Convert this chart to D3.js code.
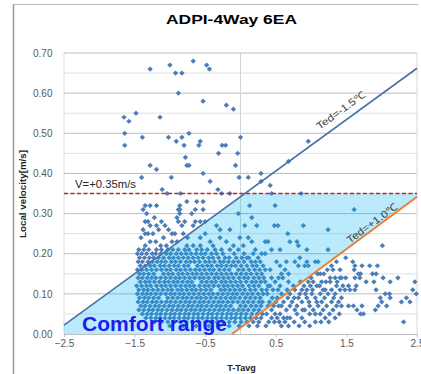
<!DOCTYPE html>
<html>
<head>
<meta charset="utf-8">
<script src="https://cdn.jsdelivr.net/npm/d3@7/dist/d3.min.js"></script>
<style>
  body { margin: 0; background: #fff; }
  svg { display: block; }
</style>
</head>
<body>
<svg id="chart" width="421" height="374"></svg>
<script>
// ---- axis ticks ----
const yTicks = [0, 0.1, 0.2, 0.3, 0.4, 0.5, 0.6, 0.7];
const yMinor = [0.05, 0.15, 0.25, 0.35, 0.45, 0.55, 0.65];
const xTicks = [-2.5, -1.5, -0.5, 0.5, 1.5, 2.5];

// ---- reference lines: effective draft temperature limits and velocity limit ----
const tedCold = [[-2.5, 0.022], [2.5, 0.662]];   // Ted = -1.5 ℃
const tedWarm = [[-0.12, 0.0], [2.5, 0.342]];    // Ted = +1.0 ℃
const velocityLimit = 0.35;                       // V = +0.35 m/s

// ---- measured points [T - Tavg, local velocity] ----
// high-velocity points above the limit line
const highPoints = [
  [-1.28,0.66],[-1.00,0.67],[-0.92,0.65],[-0.83,0.65],[-0.67,0.68],[-0.48,0.67],[-0.44,0.66],
  [-0.88,0.60],[-0.53,0.58],[-0.20,0.57],[-0.10,0.56],[-1.48,0.55],[-1.65,0.54],[-1.58,0.53],
  [-1.14,0.54],[-1.64,0.50],[-1.39,0.49],[-1.02,0.49],[-0.91,0.48],[-0.83,0.49],[-0.73,0.50],
  [-0.57,0.48],[-0.59,0.47],[-0.80,0.47],[-1.64,0.47],[-0.26,0.47],[-0.21,0.47],[0.00,0.49],
  [-0.31,0.45],[-0.04,0.45],[-0.78,0.44],[-0.76,0.42],[-0.73,0.42],[-1.28,0.42],[-1.19,0.41],
  [-0.07,0.42],[-1.40,0.39],[-0.98,0.39],[-0.53,0.40],[-0.02,0.39],[0.11,0.39],[0.29,0.40],
  [0.29,0.38],[0.42,0.37],[-0.43,0.38],[-0.32,0.36],[-1.11,0.36],[-1.04,0.35],[-0.85,0.35],
  [-0.15,0.35],[-0.27,0.35],[0.68,0.43],[0.96,0.48],[0.86,0.35],[0.44,0.35]
];

// cold cluster above the Ted = -1.5 line
const coldCluster = [
  [-1.35,0.32],[-1.28,0.32],[-1.19,0.32],[-1.38,0.31],[-1.33,0.30],[-1.35,0.28],[-1.31,0.28],
  [-1.28,0.27],[-1.19,0.27],[-1.12,0.28],[-1.07,0.27],[-1.38,0.26],[-1.35,0.25],[-1.31,0.25],
  [-1.16,0.26],[-1.24,0.25],[-1.09,0.24],[-1.02,0.26],[-0.97,0.25],[-1.35,0.22],[-1.28,0.23],
  [-1.20,0.23],[-1.13,0.22],[-1.05,0.22],[-0.88,0.31],[-0.86,0.30],[-0.90,0.29],[-0.88,0.28],
  [-0.93,0.25],[-0.97,0.23],[-0.90,0.23],[-0.83,0.27],[-0.86,0.32],[-1.41,0.24],[-1.22,0.29],
  [-0.76,0.33],[-0.62,0.33],[-0.53,0.33],[-0.64,0.31],[-0.53,0.31],[-0.86,0.31],[-0.69,0.30],
  [-0.79,0.28],[-0.64,0.28],[-0.57,0.28],[-0.50,0.28],[-0.81,0.25],[-0.67,0.27],[-0.75,0.24]
];

// upper part of the comfort zone
const comfortUpper = [
  [0.13,0.32],[-0.03,0.30],[0.16,0.29],[-0.34,0.27],[-0.29,0.26],[0.06,0.27],[0.23,0.27],
  [-0.15,0.26],[-0.01,0.24],[0.11,0.24],[-0.29,0.24],[-0.20,0.23],[-0.43,0.23],[-0.57,0.24],
  [-0.50,0.25],[0.35,0.23],[-0.10,0.22],[0.04,0.22],[0.16,0.23],[-0.39,0.22],[-0.27,0.21],
  [-0.67,0.22],[-0.57,0.22],[-0.76,0.22],[0.21,0.21],[0.30,0.20],[-0.03,0.21],[-0.15,0.21],
  [0.09,0.19],[0.21,0.18],
  [0.49,0.32],[0.48,0.27],[0.53,0.27],[0.89,0.27],[1.24,0.26],[0.67,0.25],[0.70,0.23],
  [0.80,0.23],[0.39,0.23],[0.82,0.22],[0.94,0.21],[0.44,0.21],[0.56,0.21],[0.35,0.20],
  [1.24,0.21],[0.84,0.19],[0.51,0.18],[0.65,0.18],[0.77,0.18],[0.94,0.18],[1.06,0.18],
  [1.10,0.18],[0.56,0.17],[0.82,0.17],[0.91,0.17],[0.96,0.17],[0.42,0.16],[0.63,0.16],
  [0.68,0.15],[0.35,0.16],[0.58,0.15],[0.44,0.14],[0.54,0.14],[0.35,0.13],[0.39,0.12],
  [0.49,0.13],[0.68,0.13],[0.37,0.11],[0.60,0.14],[0.42,0.12],[0.46,0.11],[0.53,0.11],
  [0.56,0.12],[0.75,0.12],[0.66,0.11],[1.61,0.31]
];

// dense core, one row per velocity step
const coreRows = [
  [0.21, [-1.44,-1.37,-1.30,-1.19,-1.12,-1.03,-0.96,-0.88,-0.79,-0.73,-0.62,-0.55,-0.47,-0.36]],
  [0.20, [-1.46,-1.40,-1.33,-1.25,-1.20,-1.13,-1.05,-0.99,-0.91,-0.84,-0.77,-0.70,-0.63,-0.56,-0.50,-0.41,-0.34,-0.25,-0.09,0.05,0.18]],
  [0.19, [-1.43,-1.36,-1.29,-1.23,-1.16,-1.09,-1.01,-0.95,-0.88,-0.81,-0.74,-0.67,-0.60,-0.53,-0.45,-0.39,-0.31,-0.22,-0.16,-0.06,0.02,0.12,0.25]],
  [0.18, [-1.45,-1.39,-1.31,-1.25,-1.18,-1.12,-1.06,-0.98,-0.92,-0.85,-0.77,-0.71,-0.65,-0.58,-0.50,-0.44,-0.37,-0.29,-0.24,-0.17,-0.10,-0.03,0.05,0.15,0.28]],
  [0.17, [-1.42,-1.35,-1.28,-1.22,-1.14,-1.08,-1.01,-0.94,-0.88,-0.80,-0.74,-0.61,-0.54,-0.47,-0.41,-0.33,-0.27,-0.20,-0.13,-0.07,0.01,0.09,0.17,0.23,0.32]],
  [0.16, [-1.46,-1.40,-1.33,-1.26,-1.19,-1.12,-1.05,-0.99,-0.91,-0.85,-0.78,-0.71,-0.64,-0.58,-0.51,-0.44,-0.38,-0.30,-0.23,-0.16,-0.03,0.04,0.12,0.20,0.27]],
  [0.15, [-1.43,-1.37,-1.30,-1.23,-1.09,-1.02,-0.96,-0.88,-0.82,-0.75,-0.68,-0.62,-0.55,-0.48,-0.41,-0.34,-0.27,-0.20,-0.13,-0.06,0.01,0.08,0.15,0.23,0.30]],
  [0.14, [-1.45,-1.39,-1.32,-1.26,-1.20,-1.13,-1.06,-0.99,-0.92,-0.86,-0.79,-0.72,-0.65,-0.58,-0.52,-0.45,-0.37,-0.31,-0.24,-0.17,-0.10,-0.02,0.05,0.11,0.19,0.26,0.33]],
  [0.13, [-1.42,-1.35,-1.29,-1.22,-1.15,-1.08,-1.02,-0.95,-0.89,-0.82,-0.75,-0.69,-0.55,-0.48,-0.41,-0.35,-0.27,-0.21,-0.14,-0.07,0.00,0.08,0.16,0.22,0.29]],
  [0.12, [-1.47,-1.40,-1.33,-1.27,-1.19,-1.12,-1.06,-0.99,-0.92,-0.85,-0.78,-0.72,-0.66,-0.58,-0.51,-0.45,-0.38,-0.31,-0.24,-0.18,-0.11,-0.04,0.03,0.12,0.19,0.26]],
  [0.11, [-1.44,-1.37,-1.31,-1.24,-1.17,-1.10,-1.03,-0.97,-0.89,-0.83,-0.76,-0.69,-0.63,-0.56,-0.49,-0.42,-0.28,-0.22,-0.15,-0.08,-0.01,0.06,0.14,0.21,0.30]],
  [0.10, [-1.46,-1.39,-1.33,-1.27,-1.20,-1.13,-1.06,-0.99,-0.93,-0.86,-0.80,-0.73,-0.66,-0.59,-0.52,-0.45,-0.39,-0.32,-0.25,-0.18,-0.11,-0.05,0.03,0.10,0.17,0.25,0.32]],
  [0.09, [-1.43,-1.36,-1.30,-1.23,-1.16,-1.03,-0.96,-0.89,-0.82,-0.76,-0.69,-0.62,-0.56,-0.49,-0.42,-0.35,-0.28,-0.21,-0.14,-0.08,-0.01,0.07,0.14,0.21,0.28]],
  [0.08, [-1.45,-1.38,-1.32,-1.25,-1.19,-1.12,-1.05,-0.99,-0.92,-0.85,-0.78,-0.72,-0.65,-0.58,-0.52,-0.45,-0.38,-0.31,-0.25,-0.18,-0.11,-0.04,0.04,0.11,0.18,0.26,0.31]],
  [0.07, [-1.41,-1.35,-1.28,-1.21,-1.15,-1.08,-1.01,-0.95,-0.88,-0.81,-0.74,-0.68,-0.61,-0.55,-0.48,-0.41,-0.34,-0.28,-0.21,-0.14,0.00,0.07,0.15,0.22,0.29]],
  [0.06, [-1.44,-1.37,-1.30,-1.24,-1.17,-1.11,-1.04,-0.97,-0.90,-0.84,-0.77,-0.70,-0.64,-0.57,-0.51,-0.44,-0.37,-0.30,-0.24,-0.17,-0.10,-0.03,0.04,0.11,0.19,0.26]],
  [0.05, [-1.39,-1.32,-1.26,-1.19,-1.13,-1.06,-0.99,-0.93,-0.86,-0.79,-0.73,-0.66,-0.60,-0.53,-0.46,-0.40,-0.33,-0.26,-0.19,-0.13,-0.06,0.01,0.08,0.16,0.24,0.31]],
  [0.04, [-1.34,-1.27,-1.20,-1.14,-1.07,-1.00,-0.94,-0.87,-0.80,-0.74,-0.67,-0.60,-0.54,-0.47,-0.40,-0.34,-0.27,-0.20,-0.13,-0.07,0.00,0.07,0.14,0.22,0.29]],
  [0.03, [-1.22,-1.12,-1.03,-0.94,-0.85,-0.77,-0.68,-0.59,-0.50,-0.42,-0.33,-0.25,-0.16,-0.08,0.01,0.09,0.18,0.26]],
  [0.02, [-1.00,-0.81,-0.63,-0.45,-0.30,-0.16,-0.02,0.12,0.24]]
];

// warm side, below the Ted = +1.0 line
const warmPoints = [
  [1.36,0.18],[1.29,0.17],[1.31,0.16],[1.41,0.16],[1.23,0.16],[1.13,0.15],[1.27,0.14],[1.34,0.14],
  [1.41,0.14],[1.15,0.13],[0.96,0.13],[1.03,0.13],[1.27,0.13],[1.36,0.12],[1.08,0.12],[1.20,0.11],
  [1.29,0.11],[1.41,0.11],[0.87,0.11],[0.94,0.11],[0.77,0.11],[1.01,0.10],[1.13,0.10],[1.24,0.10],
  [1.34,0.10],[0.70,0.10],[0.82,0.09],[0.94,0.09],[1.06,0.09],[1.15,0.08],[1.29,0.08],[1.43,0.09],
  [0.61,0.08],[0.73,0.08],[0.87,0.08],[0.98,0.07],[1.10,0.07],[1.22,0.07],[1.36,0.07],[0.54,0.07],
  [0.65,0.06],[0.77,0.06],[0.91,0.06],[1.03,0.06],[1.17,0.06],[1.31,0.06],[0.49,0.05],[0.61,0.04],
  [0.70,0.04],[0.87,0.04],[1.06,0.05],[1.20,0.04],[0.63,0.03],[0.68,0.02],[0.91,0.03],[1.06,0.03],
  [1.34,0.04],[0.44,0.06],
  [0.52,0.09],[0.58,0.10],[0.85,0.13],[0.90,0.12],[1.00,0.14],[1.09,0.15],[1.18,0.15],[1.21,0.13],
  [1.12,0.12],[1.02,0.11],[0.92,0.10],[0.84,0.10],[0.76,0.09],[0.67,0.09],[0.58,0.07],[0.70,0.07],
  [0.80,0.07],[0.88,0.06],[0.97,0.08],[1.08,0.08],[1.19,0.09],[1.32,0.09],[1.39,0.08],[1.26,0.05],
  [1.13,0.05],[0.98,0.05],[0.80,0.05],[0.56,0.05],[0.66,0.04],[0.76,0.03],[0.98,0.02],[1.14,0.03],
  [1.25,0.03],[0.83,0.02],[1.40,0.05],[1.37,0.13],[1.17,0.11],[0.99,0.12],
  [0.38,0.10],[0.45,0.09],[0.41,0.08],[0.50,0.08],[0.39,0.07],[0.47,0.07],[0.37,0.05],[0.44,0.04],
  [0.52,0.04],[0.40,0.03],[0.48,0.03],[0.55,0.03],[0.36,0.02],[0.58,0.02],
  [2.01,0.22],[1.49,0.19],[1.59,0.18],[1.62,0.17],[1.72,0.17],[1.83,0.17],[1.94,0.17],[1.61,0.16],
  [1.67,0.15],[1.70,0.15],[1.87,0.15],[1.92,0.15],[1.43,0.14],[1.49,0.14],[1.62,0.14],[1.69,0.14],
  [1.89,0.13],[2.02,0.14],[2.23,0.14],[2.12,0.13],[1.45,0.12],[1.53,0.12],[1.64,0.12],[1.78,0.13],
  [1.92,0.11],[2.44,0.11],[2.47,0.13],[1.48,0.11],[1.55,0.11],[1.62,0.11],[2.05,0.10],[2.11,0.10],
  [1.98,0.09],[2.12,0.09],[2.35,0.09],[2.40,0.08],[2.28,0.08],[2.49,0.10],[1.43,0.07],[1.53,0.07],
  [1.60,0.07],[1.65,0.06],[1.72,0.07],[1.91,0.06],[1.95,0.07],[2.07,0.07],[2.00,0.08],[1.70,0.05],
  [1.74,0.05],[2.31,0.03]
];

const points = [].concat(
  highPoints, coldCluster, comfortUpper, warmPoints,
  ...coreRows.map(([v, ts]) => ts.map(t => [t, v]))
);

// ---- layout ----
const svg = d3.select("#chart");
const plotL = 64, plotR = 417, plotT = 53, plotB = 334;
const x = d3.scaleLinear().domain([-2.5, 2.5]).range([plotL, plotR]);
const y = d3.scaleLinear().domain([0, 0.7]).range([plotB, plotT]);
const font = "'Liberation Sans', Arial, sans-serif";

// outer chart frame
svg.append("line").attr("x1", 13.5).attr("x2", 13.5).attr("y1", 4).attr("y2", 374)
  .attr("stroke", "#9a9a9a").attr("stroke-width", 1.5);
svg.append("line").attr("x1", 13).attr("x2", 418).attr("y1", 4.5).attr("y2", 4.5)
  .attr("stroke", "#b8b8b8").attr("stroke-width", 1);

// title
svg.append("text").attr("x", 231.5).attr("y", 24).attr("text-anchor", "middle")
  .attr("font-family", font).attr("font-weight", "bold").attr("font-size", 13.5)
  .attr("textLength", 131).attr("lengthAdjust", "spacingAndGlyphs")
  .attr("fill", "#000").text("ADPI-4Way 6EA");

// gridlines
const grid = svg.append("g");
grid.selectAll("line.minor").data(yMinor).join("line").attr("class", "minor")
  .attr("x1", plotL).attr("x2", plotR).attr("y1", d => y(d)).attr("y2", d => y(d))
  .attr("stroke", "#e0e0e0").attr("stroke-width", 1);
grid.selectAll("line.major").data(yTicks.slice(1)).join("line").attr("class", "major")
  .attr("x1", plotL).attr("x2", plotR).attr("y1", d => y(d)).attr("y2", d => y(d))
  .attr("stroke", "#bdbdbd").attr("stroke-width", 1);
grid.append("line").attr("x1", plotL).attr("x2", plotL).attr("y1", plotT).attr("y2", plotB)
  .attr("stroke", "#d9d9d9");
grid.append("line").attr("x1", plotR).attr("x2", plotR).attr("y1", plotT).attr("y2", plotB)
  .attr("stroke", "#d9d9d9");
grid.append("line").attr("x1", x(0)).attr("x2", x(0)).attr("y1", plotT).attr("y2", plotB)
  .attr("stroke", "#d4d4d4");

// axes
const yAxis = svg.append("g").attr("transform", `translate(${plotL},0)`)
  .call(d3.axisLeft(y).tickValues(yTicks).tickFormat(d3.format(".2f")).tickSize(0).tickPadding(11.5));
yAxis.select(".domain").remove();
yAxis.selectAll("text").attr("font-family", font).attr("font-size", 10).attr("fill", "#595959");

const xAxis = svg.append("g").attr("transform", `translate(0,${plotB})`)
  .call(d3.axisBottom(x).tickValues(xTicks).tickFormat(d3.format(".1f")).tickSize(3).tickPadding(3));
xAxis.select(".domain").attr("stroke", "#bfbfbf");
xAxis.selectAll(".tick line").attr("stroke", "#bfbfbf");
xAxis.selectAll("text").attr("font-family", font).attr("font-size", 10).attr("fill", "#595959");

// axis titles
svg.append("text").attr("x", 241.5).attr("y", 371).attr("text-anchor", "middle")
  .attr("font-family", font).attr("font-weight", "bold").attr("font-size", 9)
  .attr("fill", "#222").text("T-Tavg");
svg.append("text").attr("transform", "translate(26,194) rotate(-90)").attr("text-anchor", "middle")
  .attr("font-family", font).attr("font-weight", "bold").attr("font-size", 9.5)
  .attr("textLength", 88).attr("lengthAdjust", "spacingAndGlyphs")
  .attr("fill", "#222").text("Local velocity[m/s]");

// scatter markers
const diamond = "M0,-2.6L2.7,0L0,2.6L-2.7,0Z";
svg.append("g").selectAll("path").data(points).join("path")
  .attr("d", diamond)
  .attr("transform", d => `translate(${x(d[0])},${y(d[1])})`)
  .attr("fill", "#4a7ebb");

// comfort zone overlay, bounded by both Ted lines and the velocity limit
const lerpT = (seg, v) => seg[0][0] + (v - seg[0][1]) * (seg[1][0] - seg[0][0]) / (seg[1][1] - seg[0][1]);
const zone = [
  [-2.5, 0], tedCold[0], [lerpT(tedCold, velocityLimit), velocityLimit],
  [2.5, velocityLimit], tedWarm[1], tedWarm[0]
];
const path = d3.line().x(d => x(d[0])).y(d => y(d[1]));
svg.append("path")
  .attr("d", path(zone) + "Z")
  .attr("fill", "rgba(0,176,240,0.27)");

// velocity limit
svg.append("line").attr("x1", plotL).attr("x2", plotR)
  .attr("y1", y(velocityLimit)).attr("y2", y(velocityLimit))
  .attr("stroke", "#b22a2a").attr("stroke-width", 1.3).attr("stroke-dasharray", "4,2.5");

// Ted limit lines
svg.append("path").attr("d", path(tedCold)).attr("fill", "none")
  .attr("stroke", "#4a72aa").attr("stroke-width", 1.6);
svg.append("path").attr("d", path(tedWarm)).attr("fill", "none")
  .attr("stroke", "#ed7d31").attr("stroke-width", 2);

// annotations
const angle = Math.atan2(y(tedCold[1][1]) - y(tedCold[0][1]), x(tedCold[1][0]) - x(tedCold[0][0])) * 180 / Math.PI;
svg.append("text").attr("transform", `translate(343,113) rotate(${angle})`).attr("text-anchor", "middle")
  .attr("font-family", font).attr("font-size", 10).attr("fill", "#404040")
  .attr("textLength", 58).attr("lengthAdjust", "spacingAndGlyphs").text("Ted=-1.5℃");
svg.append("text").attr("transform", `translate(374,226) rotate(${angle})`).attr("text-anchor", "middle")
  .attr("font-family", font).attr("font-size", 10).attr("fill", "#404040")
  .attr("textLength", 60).attr("lengthAdjust", "spacingAndGlyphs").text("Ted=+1.0℃");
svg.append("text").attr("x", 75).attr("y", 188)
  .attr("font-family", font).attr("font-size", 10).attr("fill", "#262626")
  .attr("textLength", 61).attr("lengthAdjust", "spacingAndGlyphs").text("V=+0.35m/s");
svg.append("text").attr("x", 82).attr("y", 330.5)
  .attr("font-family", font).attr("font-weight", "bold").attr("font-size", 20)
  .attr("textLength", 145).attr("lengthAdjust", "spacingAndGlyphs")
  .attr("fill", "#1c1cf0").text("Comfort range");
</script>
</body>
</html>
